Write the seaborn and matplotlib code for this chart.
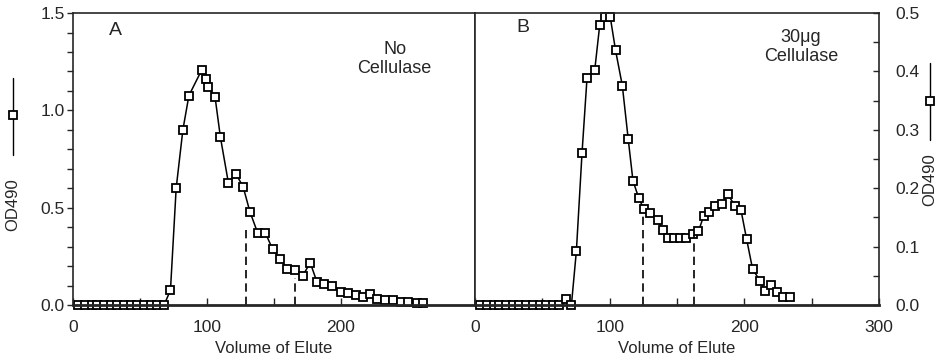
import matplotlib
matplotlib.use('Agg')
import matplotlib.pyplot as plt
import seaborn as sns
import pandas as pd

# Panel A - no cellulase
vol_a = [4, 9, 14, 18, 23, 28, 33, 38, 43, 48, 53, 58, 63, 68,
         72.75, 77, 82, 86.5, 96, 99, 100.75, 106, 110, 116, 121.5, 127,
         132, 137.75, 143.5, 149, 154.75, 159.75, 165.75, 171.5, 177, 182,
         187, 193.5, 200, 205, 211, 216.5, 221.5, 227, 233, 239, 245, 250,
         256.5, 261.5]
od_a = [0, 0, 0, 0, 0, 0, 0, 0, 0, 0, 0, 0, 0, 0,
        0.077, 0.60, 0.90, 1.076, 1.207, 1.16, 1.12, 1.07, 0.863, 0.627,
        0.675, 0.607, 0.48, 0.372, 0.372, 0.286, 0.235, 0.1875, 0.18, 0.15,
        0.218, 0.12, 0.107, 0.099, 0.065, 0.061, 0.05, 0.043, 0.055, 0.03,
        0.024, 0.024, 0.017, 0.014, 0.009, 0.009]

# Panel B - 30ug cellulase
vol_b = [4, 9, 14, 18, 23, 28, 33, 38, 43, 48, 53, 58, 62.5,
         67.4, 71.6, 75.3, 79.5, 83.2, 88.9, 92.6, 96.3, 100.5, 104.4, 109.4,
         113.8, 117.3, 121.5, 125.2, 129.6, 135.8, 139.5, 143.7, 148.1, 152.6,
         156.8, 161.7, 165.9, 169.9, 174, 178.5, 183.2, 187.7, 193, 197.5,
         201.7, 206.2, 211.9, 215.3, 219.8, 224, 228.4, 233.8]
od_b = [0, 0, 0, 0, 0, 0, 0, 0, 0, 0, 0, 0, 0,
        0.0097, 0, 0.0926, 0.261, 0.389, 0.402, 0.479, 0.494, 0.4926, 0.436,
        0.376, 0.284, 0.213, 0.184, 0.165, 0.158, 0.145, 0.129, 0.115, 0.115,
        0.115, 0.115, 0.122, 0.126, 0.153, 0.159, 0.169, 0.173, 0.19, 0.170,
        0.163, 0.113, 0.061, 0.041, 0.024, 0.035, 0.023, 0.013, 0.013]

# fraction cut-offs (dashed lines)
cut_x_a = [129, 165.5]
cut_top_a = [0.41, 0.14]
cut_x_b = [124.5, 162.5]
cut_top_b = [0.16, 0.12]

df_a = pd.DataFrame({'vol': vol_a, 'od': od_a})
df_b = pd.DataFrame({'vol': vol_b, 'od': od_b})

sns.set_style('ticks')
plt.rcParams['font.family'] = ['Liberation Sans', 'DejaVu Sans']

fig = plt.figure(figsize=(9.43, 3.64), dpi=100)
ax_a = fig.add_axes([0.0774, 0.162, 0.4263, 0.802])
ax_b = fig.add_axes([0.5037, 0.162, 0.4284, 0.802])

mk = dict(color='black', marker='s', markersize=5.3, markerfacecolor='white',
          markeredgecolor='black', markeredgewidth=1.3, linewidth=1.1,
          sort=False, errorbar=None, clip_on=False)

sns.lineplot(data=df_a, x='vol', y='od', ax=ax_a, **mk)
sns.lineplot(data=df_b, x='vol', y='od', ax=ax_b, **mk)

for x, t in zip(cut_x_a, cut_top_a):
    ax_a.plot([x, x], [0, t], color='black', lw=1.2, ls=(0, (5, 3)))
for x, t in zip(cut_x_b, cut_top_b):
    ax_b.plot([x, x], [0, t], color='black', lw=1.2, ls=(0, (5, 3)))

for ax in (ax_a, ax_b):
    ax.set_xlim(0, 300)
    ax.set_xticks([0, 100, 200, 300])
    ax.set_xticks([50, 150, 250], minor=True)
    ax.tick_params(axis='x', which='both', direction='in', length=5,
                   width=1, pad=11, labelsize=12.5)
    ax.set_xlabel('Volume of Elute', fontsize=12, labelpad=4)
    ax.set_ylabel('')
    for s in ax.spines.values():
        s.set_linewidth(1.2)
    ax.spines['bottom'].set_linewidth(2)
    ax.set_facecolor('white')

# panel A axis
ax_a.set_ylim(0, 1.5)
ax_a.set_yticks([0, 0.5, 1.0, 1.5])
ax_a.set_yticklabels(['0.0', '0.5', '1.0', '1.5'])
ax_a.set_yticks([0.1, 0.2, 0.3, 0.4, 0.6, 0.7, 0.8, 0.9, 1.1, 1.2, 1.3, 1.4],
                minor=True)
ax_a.tick_params(axis='y', which='both', direction='out', length=4, width=1,
                 pad=2, labelsize=12.5)
ax_a.set_xticklabels(['0', '100', '200', ''])

# panel B axis on the right
ax_b.set_ylim(0, 0.5)
ax_b.yaxis.tick_right()
ax_b.set_yticks([0, 0.1, 0.2, 0.3, 0.4, 0.5])
ax_b.set_yticklabels(['0.0', '0.1', '0.2', '0.3', '0.4', '0.5'])
ax_b.set_yticks([0.05, 0.15, 0.25, 0.35, 0.45], minor=True)
ax_b.tick_params(axis='y', which='both', direction='in', length=4, width=1,
                 pad=12, labelsize=12.5, left=False, right=True)
ax_b.set_xticklabels(['0', '100', '200', '300'])

ax_a.text(0.105, 0.94, 'A', transform=ax_a.transAxes, fontsize=14,
          ha='center', va='center')
ax_b.text(0.118, 0.95, 'B', transform=ax_b.transAxes, fontsize=14,
          ha='center', va='center')
ax_a.text(0.80, 0.843, 'No\nCellulase', transform=ax_a.transAxes, fontsize=13,
          ha='center', va='center', linespacing=1.15)
ax_b.text(0.807, 0.885, '30\u03bcg\nCellulase', transform=ax_b.transAxes,
          fontsize=13, ha='center', va='center', linespacing=1.15)

# vertical legend-style axis titles
fig.text(13 / 943, 1 - 205 / 364, 'OD490', rotation=90, ha='center',
         va='center', fontsize=12)
fig.add_artist(plt.Line2D([13 / 943, 13 / 943], [1 - 78 / 364, 1 - 155 / 364],
                          transform=fig.transFigure, color='black', lw=1))
fig.add_artist(plt.Line2D([13 / 943], [1 - 115 / 364], transform=fig.transFigure,
                          marker='s', markersize=5.3, markerfacecolor='white',
                          markeredgecolor='black', markeredgewidth=1.3))

fig.text(930 / 943, 1 - 180 / 364, 'OD490', rotation=90, ha='center',
         va='center', fontsize=12)
fig.add_artist(plt.Line2D([930 / 943, 930 / 943], [1 - 63 / 364, 1 - 140 / 364],
                          transform=fig.transFigure, color='black', lw=1))
fig.add_artist(plt.Line2D([930 / 943], [1 - 101 / 364], transform=fig.transFigure,
                          marker='s', markersize=5.3, markerfacecolor='white',
                          markeredgecolor='black', markeredgewidth=1.3))

fig.savefig('out.png', dpi=100, facecolor='white')
